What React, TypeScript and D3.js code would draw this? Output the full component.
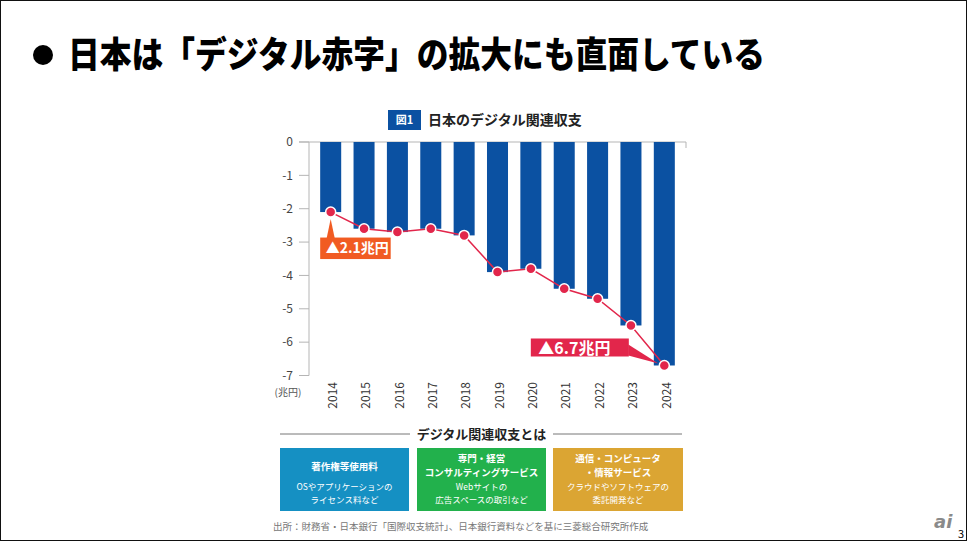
import React from "react";
import * as d3 from "d3";

// 日本のデジタル関連収支（兆円）
const years = ["2014", "2015", "2016", "2017", "2018", "2019", "2020", "2021", "2022", "2023", "2024"];
const balance = [-2.1, -2.6, -2.7, -2.6, -2.8, -3.9, -3.8, -4.4, -4.7, -5.5, -6.7];
const yTicks = [0, -1, -2, -3, -4, -5, -6, -7];

const categories = [
  { title: ["著作権等使用料"], desc: ["OSやアプリケーションの", "ライセンス料など"], color: "#1590c3" },
  { title: ["専門・経営", "コンサルティングサービス"], desc: ["Webサイトの", "広告スペースの取引など"], color: "#22b14c" },
  { title: ["通信・コンピュータ", "・情報サービス"], desc: ["クラウドやソフトウェアの", "委託開発など"], color: "#dba533" },
];

const W = 969, H = 541;
const font = "'Noto Sans CJK JP', 'Noto Sans', sans-serif";
const blue = "#0b51a2";
const red = "#e2264b";
const orange = "#f15b22";

export default function App() {
  const x = d3.scaleBand().domain(years).range([309, 686]).paddingInner(0.37).paddingOuter(0.335);
  const y = d3.scaleLinear().domain([0, -7]).range([142, 375.5]);
  const cx = (yr: string) => (x(yr) ?? 0) + x.bandwidth() / 2;

  const line = d3.line<number>()
    .x((_, i) => cx(years[i]))
    .y(d => y(d));

  // annotation anchors
  const firstX = cx(years[0]), firstY = y(balance[0]);
  const lastI = years.length - 1;
  const lastX = cx(years[lastI]), lastY = y(balance[lastI]);
  const boxW = [129, 129, 130];
  const boxX = [280, 417, 553];

  return (
    <div style={{ position: "absolute", left: 0, top: 0 }}>
      <svg width={W} height={H} style={{ display: "block", fontFamily: font }}>
        <rect x={0} y={0} width={W} height={H} fill="#fff" />
        <rect x={0.5} y={0.5} width={W - 3} height={H - 1} fill="none" stroke="#111" strokeWidth={1} />

        {/* heading */}
        <circle cx={43} cy={55} r={10} fill="#000" />
        <text x={68} y={68} fontSize={36} fontWeight={900} fill="#000" textLength={697} lengthAdjust="spacingAndGlyphs">
          日本は「デジタル赤字」の拡大にも直面している
        </text>

        {/* chart title */}
        <rect x={388} y={110} width={33} height={20} fill={blue} />
        <text x={404.5} y={124} fontSize={11} fontWeight={700} fill="#fff" textAnchor="middle">図1</text>
        <text x={428} y={125} fontSize={14} fontWeight={700} fill="#222">日本のデジタル関連収支</text>

        {/* axes */}
        <line x1={309} x2={309} y1={y(0)} y2={y(-7)} stroke="#b5b5b5" />
        <line x1={299} x2={686} y1={y(0)} y2={y(0)} stroke="#b5b5b5" />
        <line x1={686} x2={686} y1={y(0)} y2={y(0) + 6} stroke="#b5b5b5" />
        {yTicks.map(t => (
          <g key={t}>
            <line x1={299} x2={309} y1={y(t)} y2={y(t)} stroke="#b5b5b5" />
            <text x={293} y={y(t)} dy="0.35em" fontSize={12} fill="#444" textAnchor="end">{t}</text>
          </g>
        ))}
        <text x={288} y={396} fontSize={10} fill="#555" textAnchor="middle">(兆円)</text>

        {/* bars */}
        {years.map((yr, i) => (
          <rect key={yr} x={x(yr)} y={y(0)} width={x.bandwidth()} height={y(balance[i]) - y(0)} fill={blue} />
        ))}

        {/* year labels */}
        {years.map(yr => (
          <text key={yr} transform={`translate(${cx(yr) + 3},382) rotate(-90)`} fontSize={12} fill="#333"
            textAnchor="end" dominantBaseline="middle">{yr}</text>
        ))}

        {/* line + dots */}
        <path d={line(balance) ?? ""} fill="none" stroke={red} strokeWidth={1.5} />
        {balance.map((v, i) => (
          <circle key={i} cx={cx(years[i])} cy={y(v)} r={5} fill={red} stroke="#fff" strokeWidth={1.5} />
        ))}

        {/* annotation 2014 */}
        <path d={`M${firstX - 4},${firstY + 26} L${firstX},${firstY + 7} L${firstX + 4},${firstY + 26} Z`} fill={orange} />
        <rect x={firstX - 10.5} y={firstY + 25.5} width={70.5} height={21.5} fill={orange} />
        <text x={firstX - 5} y={firstY + 41} fontSize={14} fontWeight={700} fill="#fff">▲2.1兆円</text>

        {/* annotation 2024 */}
        <path d={`M${lastX - 36},${lastY - 21} L${lastX - 6},${lastY - 2} L${lastX - 36},${lastY - 10} Z`} fill={red} />
        <rect x={lastX - 133.5} y={lastY - 27} width={98} height={18} fill={red} />
        <text x={lastX - 126} y={lastY - 11.5} fontSize={16} fontWeight={700} fill="#fff">▲6.7兆円</text>

        {/* definitions */}
        <line x1={280} x2={410} y1={434} y2={434} stroke="#777" />
        <line x1={553} x2={682} y1={434} y2={434} stroke="#777" />
        <text x={481.5} y={438.5} fontSize={13} fontWeight={700} fill="#222" textAnchor="middle">デジタル関連収支とは</text>
        {categories.map((c, i) => {
          const mid = boxX[i] + boxW[i] / 2;
          const t0 = c.title.length === 1 ? 470 : 462;
          return (
            <g key={i}>
              <rect x={boxX[i]} y={448} width={boxW[i]} height={63} fill={c.color} />
              {c.title.map((s, j) => (
                <text key={s} x={mid} y={t0 + j * 13.5} fontSize={9.5} fontWeight={700} fill="#fff" textAnchor="middle">{s}</text>
              ))}
              {c.desc.map((s, j) => (
                <text key={s} x={mid} y={490 + j * 12.5} fontSize={8.5} fill="#fff" textAnchor="middle">{s}</text>
              ))}
            </g>
          );
        })}

        <text x={273} y={530} fontSize={9.5} fill="#777">出所：財務省・日本銀行「国際収支統計」、日本銀行資料などを基に三菱総合研究所作成</text>

        {/* footer */}
        <text x={934} y={528} fontSize={18} fontStyle="italic" fontWeight={700} fill="#8a8a8a" fontFamily="'DejaVu Sans', sans-serif">ai</text>
        <text x={958} y={538} fontSize={11} fill="#000">3</text>
      </svg>
    </div>
  );
}
